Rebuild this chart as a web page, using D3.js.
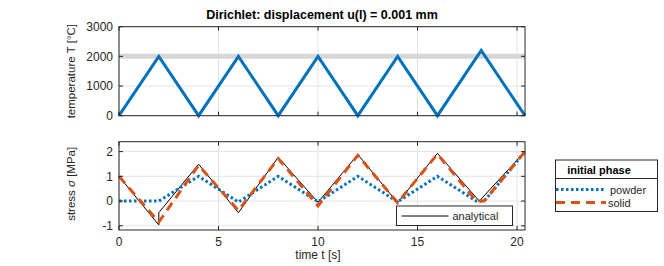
<!DOCTYPE html>
<html>
<head>
<meta charset="utf-8">
<script src="https://cdn.jsdelivr.net/npm/d3@7"></script>
<style>
  body { margin: 0; background: #fff; }
  text { font-family: "Liberation Sans", Arial, Helvetica, sans-serif; fill: #262626; }
</style>
</head>
<body>
<div class="chart"></div>
<script>
// temperature history
var tempTime = [0, 2, 4, 6, 8, 10, 12, 14, 16, 18.2, 20.4];
var tempValue = [0, 2000, 0, 2000, 0, 2000, 0, 2000, 0, 2200, 0];
var meltLevel = 2000;

// stress histories
var analyticalTime = [0, 2, 2, 4, 6, 8, 10, 12, 14, 16, 18.1, 20.4];
var analyticalValue = [1.0, -0.97, -0.47, 1.49, -0.47, 1.77, -0.05, 1.88, -0.07, 1.93, 0.0, 2.0];
var powderTime = [0, 2, 4, 6, 8, 10, 12, 14, 16, 17.95, 18.35, 20.4];
var powderValue = [0, 0, 1.0, -0.04, 1.0, -0.03, 1.0, -0.03, 1.0, 0.0, 0.0, 2.0];
var solidTime = [0, 2, 4, 6, 8, 10, 12, 14, 16, 17.95, 18.35, 20.4];
var solidValue = [1.0, -0.85, 1.45, -0.38, 1.72, -0.19, 1.85, -0.07, 1.9, 0.0, 0.0, 2.0];

var xTicks = [0, 5, 10, 15, 20];
var tempTicks = [0, 1000, 2000, 3000];
var stressTicks = [-1, 0, 1, 2];

var W = 664, H = 266;
var left = 119, right = 525;
var axColor = "#262626", gridColor = "#e3e3e3";
var blue = "#0072BD", orange = "#D95319";

var svg = d3.select(".chart").append("svg")
  .attr("width", W).attr("height", H);
svg.append("rect").attr("width", W).attr("height", H).attr("fill", "#fff");

var x = d3.scaleLinear().domain([0, 20.4]).range([left, right]);
var yT = d3.scaleLinear().domain([0, 3000]).range([115.7, 26.7]);
var yS = d3.scaleLinear().domain([-1.17, 2.4]).range([230, 141.7]);

// draw one axes box with grid and inside ticks
function drawAxes(y, yTicks, showX) {
  var top = y.range()[1], bot = y.range()[0];
  var g = svg.append("g");
  xTicks.forEach(function(t) {
    g.append("line").attr("x1", x(t)).attr("x2", x(t)).attr("y1", top).attr("y2", bot)
      .attr("stroke", gridColor).attr("stroke-width", 1);
  });
  yTicks.forEach(function(t) {
    g.append("line").attr("x1", left).attr("x2", right).attr("y1", y(t)).attr("y2", y(t))
      .attr("stroke", gridColor).attr("stroke-width", 1);
  });
  return g;
}

function drawFrame(y, yTicks, showX) {
  var top = y.range()[1], bot = y.range()[0];
  var g = svg.append("g");
  g.append("rect").attr("x", left).attr("y", top).attr("width", right - left).attr("height", bot - top)
    .attr("fill", "none").attr("stroke", axColor).attr("stroke-width", 1);
  xTicks.forEach(function(t) {
    g.append("line").attr("x1", x(t)).attr("x2", x(t)).attr("y1", bot).attr("y2", bot - 4).attr("stroke", axColor);
    g.append("line").attr("x1", x(t)).attr("x2", x(t)).attr("y1", top).attr("y2", top + 4).attr("stroke", axColor);
    if (showX) {
      g.append("text").attr("x", x(t)).attr("y", bot + 16).attr("text-anchor", "middle")
        .attr("font-size", 12).text(t);
    }
  });
  yTicks.forEach(function(t) {
    g.append("line").attr("x1", left).attr("x2", left + 4).attr("y1", y(t)).attr("y2", y(t)).attr("stroke", axColor);
    g.append("line").attr("x1", right).attr("x2", right - 4).attr("y1", y(t)).attr("y2", y(t)).attr("stroke", axColor);
    g.append("text").attr("x", left - 6).attr("y", y(t)).attr("dy", "0.35em").attr("text-anchor", "end")
      .attr("font-size", 12).text(t);
  });
}

function pts(ts, vs) { return ts.map(function(t, i) { return [t, vs[i]]; }); }

// ---- top: temperature ----
drawAxes(yT, tempTicks);
svg.append("line").attr("x1", left).attr("x2", right)
  .attr("y1", yT(meltLevel)).attr("y2", yT(meltLevel))
  .attr("stroke", "#d6d6d6").attr("stroke-width", 5);
var lineT = d3.line().x(d => x(d[0])).y(d => yT(d[1]));
svg.append("path").attr("d", lineT(pts(tempTime, tempValue)))
  .attr("fill", "none").attr("stroke", blue).attr("stroke-width", 3).attr("stroke-linejoin", "miter");
drawFrame(yT, tempTicks, false);

svg.append("text").attr("x", 322).attr("y", 19).attr("text-anchor", "middle")
  .attr("font-size", 12.5).attr("font-weight", "bold").style("fill", "#000")
  .text("Dirichlet: displacement u(l) = 0.001 mm");

svg.append("text").attr("transform", "translate(75," + ((yT.range()[0] + yT.range()[1]) / 2) + ") rotate(-90)")
  .attr("text-anchor", "middle").attr("font-size", 11.5).text("temperature T [°C]");

// ---- bottom: stress ----
drawAxes(yS, stressTicks);
var lineS = d3.line().x(d => x(d[0])).y(d => yS(d[1]));
svg.append("path").attr("d", lineS(pts(analyticalTime, analyticalValue)))
  .attr("fill", "none").attr("stroke", "#000").attr("stroke-width", 1);
svg.append("path").attr("d", lineS(pts(powderTime, powderValue)))
  .attr("fill", "none").attr("stroke", blue).attr("stroke-width", 3).attr("stroke-dasharray", "2.5,2.5");
svg.append("path").attr("d", lineS(pts(solidTime, solidValue)))
  .attr("fill", "none").attr("stroke", orange).attr("stroke-width", 3).attr("stroke-dasharray", "9,6");
drawFrame(yS, stressTicks, true);

var ylab = svg.append("text")
  .attr("transform", "translate(75," + ((yS.range()[0] + yS.range()[1]) / 2 - 2) + ") rotate(-90)")
  .attr("text-anchor", "middle").attr("font-size", 11.5);
ylab.append("tspan").text("stress  ");
ylab.append("tspan").attr("font-style", "italic").text("σ");
ylab.append("tspan").text(" [MPa]");

svg.append("text").attr("x", 318).attr("y", 259).attr("text-anchor", "middle")
  .attr("font-size", 12).text("time t [s]");

// analytical legend (inside)
var lg1 = svg.append("g");
lg1.append("rect").attr("x", 396.5).attr("y", 206).attr("width", 116).attr("height", 19.5)
  .attr("fill", "#fff").attr("stroke", axColor);
lg1.append("line").attr("x1", 401.5).attr("x2", 448.5).attr("y1", 216).attr("y2", 216)
  .attr("stroke", "#000").attr("stroke-width", 1);
lg1.append("text").attr("x", 452.5).attr("y", 220).attr("font-size", 11).text("analytical");

// phase legend (outside)
var lg2 = svg.append("g");
lg2.append("rect").attr("x", 555.5).attr("y", 160).attr("width", 102).attr("height", 51.5)
  .attr("fill", "#fff").attr("stroke", axColor);
lg2.append("line").attr("x1", 555.5).attr("x2", 657.5).attr("y1", 178.5).attr("y2", 178.5)
  .attr("stroke", axColor);
lg2.append("text").attr("x", 599).attr("y", 173.5).attr("text-anchor", "middle")
  .attr("font-size", 11).attr("font-weight", "bold").style("fill", "#000").text("initial phase");
lg2.append("line").attr("x1", 556).attr("x2", 606).attr("y1", 189.5).attr("y2", 189.5)
  .attr("stroke", blue).attr("stroke-width", 3).attr("stroke-dasharray", "2.5,2.5");
lg2.append("text").attr("x", 610).attr("y", 193.5).attr("font-size", 11).text("powder");
lg2.append("line").attr("x1", 556).attr("x2", 606).attr("y1", 202.5).attr("y2", 202.5)
  .attr("stroke", orange).attr("stroke-width", 3).attr("stroke-dasharray", "9,6");
lg2.append("text").attr("x", 608).attr("y", 206.5).attr("font-size", 11).text("solid");
</script>
</body>
</html>
